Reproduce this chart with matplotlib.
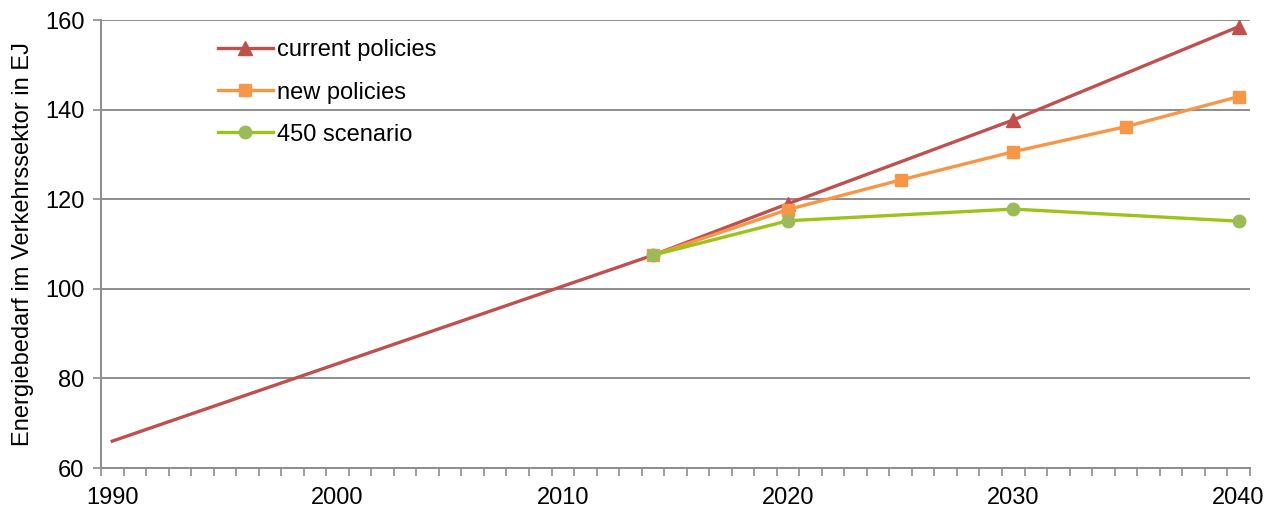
import matplotlib
matplotlib.use("Agg")
import matplotlib.pyplot as plt
import numpy as np

plt.rcParams['font.family'] = ['Liberation Sans', 'DejaVu Sans']

# Energy demand in the transport sector (EJ)
years_current = [1990, 2014, 2020, 2030, 2040]
current_policies = [66.0, 107.5, 119.0, 137.7, 158.5]

years_new = [2014, 2020, 2025, 2030, 2035, 2040]
new_policies = [107.5, 117.7, 124.3, 130.6, 136.2, 142.9]

years_450 = [2014, 2020, 2030, 2040]
scenario_450 = [107.5, 115.2, 117.8, 115.1]

y_ticks = [60, 80, 100, 120, 140, 160]
x_labels = [1990, 2000, 2010, 2020, 2030, 2040]

red = '#C0504D'
orange = '#F79646'
green_line = '#9BC31A'
green_marker = '#9BBB59'
grid_grey = '#8C8C8C'

fig = plt.figure(figsize=(12.85, 5.12), dpi=100)
ax = fig.add_axes([0.0786, 0.0859, 0.894, 0.875])

ax.plot(years_current, current_policies, color=red, lw=2.4, marker='^',
        markersize=9.5, markevery=[2, 3, 4], label='current policies', zorder=3)
ax.plot(years_new, new_policies, color=orange, lw=2.4, marker='s',
        markersize=9, label='new policies', zorder=4)
ax.plot(years_450, scenario_450, color=green_line, lw=2.4, marker='o',
        markersize=9, markerfacecolor=green_marker, markeredgecolor=green_marker,
        label='450 scenario', zorder=5)

ax.set_xlim(1989.5, 2040.5)
ax.set_ylim(60, 160)

ax.set_yticks(y_ticks)
ax.yaxis.grid(True, color=grid_grey, lw=1.4)
ax.set_axisbelow(True)

ax.set_xticks(x_labels)
ax.set_xticklabels([str(x) for x in x_labels])
ax.set_xticks(np.arange(1989.5, 2041, 1.0), minor=True)
ax.tick_params(axis='x', which='major', length=0, labelsize=17, pad=14)
ax.tick_params(axis='x', which='minor', length=6, width=1.2, color=grid_grey, direction='out')
ax.tick_params(axis='y', which='major', length=6, width=1.2, color=grid_grey,
               labelsize=17, pad=6)

for side in ['top', 'right']:
    ax.spines[side].set_visible(False)
for side in ['left', 'bottom']:
    ax.spines[side].set_color(grid_grey)
    ax.spines[side].set_linewidth(1.4)

ax.set_ylabel('Energiebedarf im Verkehrssektor in EJ', fontsize=17, labelpad=8)

leg = ax.legend(loc='upper left', bbox_to_anchor=(0.0836, 1.004), frameon=False,
                fontsize=17, handlelength=2.3, handletextpad=0.2, labelspacing=0.85)

fig.savefig('out.png', dpi=100)
